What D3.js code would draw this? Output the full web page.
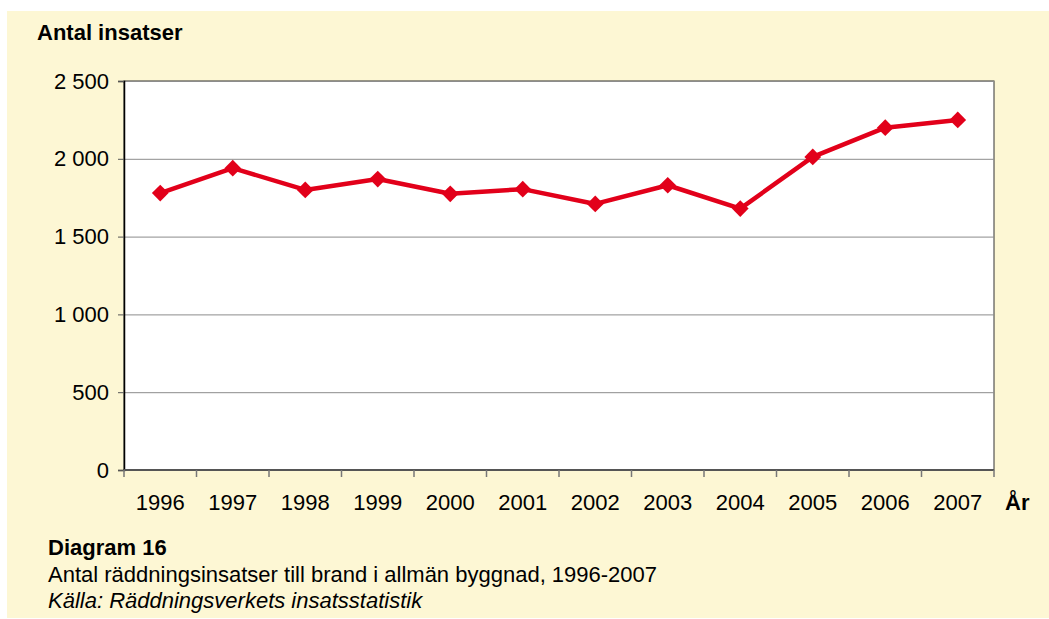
<!DOCTYPE html>
<html>
<head>
<meta charset="utf-8">
<script src="https://cdn.jsdelivr.net/npm/d3@7"></script>
<style>
  body { margin: 0; background: #fff; }
  svg { display: block; font-family: "Liberation Sans", Arial, sans-serif; }
  .axis text { font-size: 22px; fill: #000; }
  .grid line { stroke: #8c8c8c; stroke-width: 1; }
  .grid path { display: none; }
</style>
</head>
<body>
<svg id="chart" width="1049" height="619"></svg>
<script>
const years = ['1996', '1997', '1998', '1999', '2000', '2001', '2002', '2003', '2004', '2005', '2006', '2007']
const insatser = [1780, 1940, 1800, 1870, 1775, 1805, 1710, 1830, 1680, 2012, 2200, 2250]
const yTicks = [0, 500, 1000, 1500, 2000, 2500]

const svg = d3.select('#chart')
const margin = { top: 81, left: 124, right: 1049 - 994, bottom: 619 - 470 }
const width = 1049 - margin.left - margin.right
const height = 619 - margin.top - margin.bottom

svg.append('rect')
  .attr('x', 7).attr('y', 11).attr('width', 1042).attr('height', 607)
  .attr('fill', '#fdf7d4')

const x = d3.scaleBand().domain(years).range([0, width])
const y = d3.scaleLinear().domain([0, 2500]).range([height, 0])
const fmt = (d) => d3.format(',')(d).replace(',', ' ')

const root = svg.append('g').attr('transform', `translate(${margin.left},${margin.top})`)

root.append('rect')
  .attr('width', width).attr('height', height)
  .attr('fill', '#fff').attr('stroke', '#333').attr('stroke-width', 1)

root.append('g')
  .attr('class', 'grid')
  .call(d3.axisLeft(y).tickValues(yTicks.slice(1)).tickSize(-width).tickFormat(''))

// y axis
const yAxis = root.append('g')
  .attr('class', 'axis')
  .call(d3.axisLeft(y).tickValues(yTicks).tickSize(6).tickPadding(9).tickFormat(fmt))
yAxis.select('.domain').attr('stroke', '#000').attr('stroke-width', 1.5)
yAxis.selectAll('line').attr('stroke', '#555')

// x axis: ticks at band boundaries
const xAxis = root.append('g')
  .attr('class', 'axis')
  .attr('transform', `translate(0,${height})`)
xAxis.append('line')
  .attr('x1', 0).attr('x2', width)
  .attr('stroke', '#555').attr('stroke-width', 2)
xAxis.selectAll('.tk')
  .data(years.concat(['end']))
  .join('line')
  .attr('class', 'tk')
  .attr('x1', (d, i) => i < years.length ? x(d) : width)
  .attr('x2', (d, i) => i < years.length ? x(d) : width)
  .attr('y1', 0).attr('y2', 7)
  .attr('stroke', '#777').attr('stroke-width', 1.5)
xAxis.selectAll('.lbl')
  .data(years)
  .join('text')
  .attr('class', 'lbl')
  .attr('x', (d) => x(d) + x.bandwidth() / 2)
  .attr('y', 40)
  .attr('text-anchor', 'middle')
  .text((d) => d)

const line = d3.line()
  .x((d, i) => x(years[i]) + x.bandwidth() / 2)
  .y((d) => y(d))

root.append('path')
  .datum(insatser)
  .attr('fill', 'none')
  .attr('stroke', '#e2001a')
  .attr('stroke-width', 4.5)
  .attr('stroke-linejoin', 'round')
  .attr('d', line)

root.selectAll('.pt')
  .data(insatser)
  .join('path')
  .attr('class', 'pt')
  .attr('d', d3.symbol(d3.symbolSquare, 140))
  .attr('transform', (d, i) => `translate(${x(years[i]) + x.bandwidth() / 2},${y(d)}) rotate(45)`)
  .attr('fill', '#e2001a')

// texts
svg.append('text')
  .attr('x', 37).attr('y', 40)
  .attr('font-size', 22).attr('font-weight', 'bold')
  .text('Antal insatser')
svg.append('text')
  .attr('x', 1005).attr('y', 510)
  .attr('font-size', 22).attr('font-weight', 'bold')
  .text('År')
svg.append('text')
  .attr('x', 48).attr('y', 555)
  .attr('font-size', 22).attr('font-weight', 'bold')
  .text('Diagram 16')
svg.append('text')
  .attr('x', 48).attr('y', 582)
  .attr('font-size', 22)
  .text('Antal räddningsinsatser till brand i allmän byggnad, 1996-2007')
svg.append('text')
  .attr('x', 48).attr('y', 608)
  .attr('font-size', 22).attr('font-style', 'italic')
  .text('Källa: Räddningsverkets insatsstatistik')
</script>
</body>
</html>
